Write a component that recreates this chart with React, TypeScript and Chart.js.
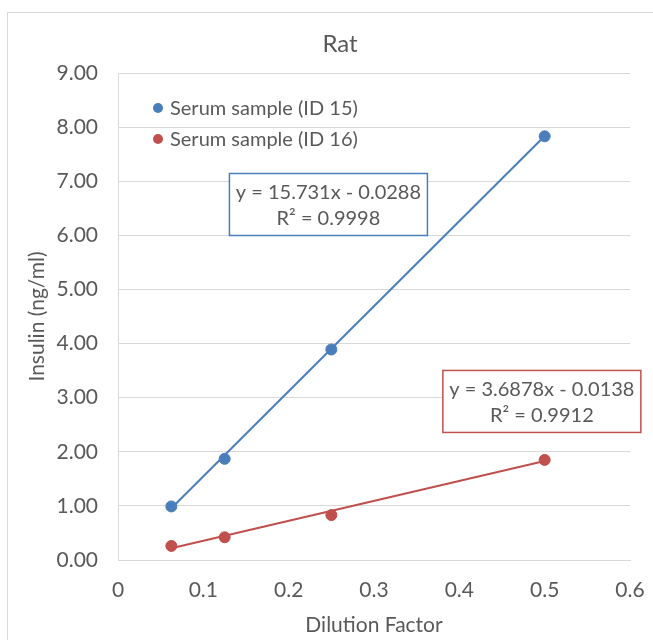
import { useEffect, useRef } from "react";
import { Chart, registerables } from "chart.js";
Chart.register(...registerables);

const dilution = [0.0625, 0.125, 0.25, 0.5];
const id15 = [0.99, 1.87, 3.89, 7.83];
const id16 = [0.26, 0.42, 0.83, 1.85];
const trendX = [0.0625, 0.5];
const trend15 = [0.955, 7.837];
const trend16 = [0.217, 1.83];
const seriesLabels = ["Serum sample (ID 15)", "Serum sample (ID 16)"];
const equation15 = ["y = 15.731x - 0.0288", "R² = 0.9998"];
const equation16 = ["y = 3.6878x - 0.0138", "R² = 0.9912"];
const chartTitle = "Rat";

const FONT = "Lato, 'Open Sans', sans-serif";
const TXT = "#595959";
const BLUE = "#4a7ebb";
const RED = "#c0504d";

const extras = {
  id: "extras",
  beforeDraw(chart: any) {
    const ctx = chart.ctx;
    ctx.save();
    ctx.fillStyle = "#fff";
    ctx.fillRect(0, 0, chart.width, chart.height);
    ctx.strokeStyle = "#d9d9d9";
    ctx.lineWidth = 1;
    ctx.strokeRect(7.5, 12.5, chart.width + 20, chart.height + 20);
    ctx.restore();
  },
  afterDatasetsDraw(chart: any) {
    const ctx = chart.ctx;
    const { left, top } = chart.chartArea;
    const xs = chart.scales.x;
    const ys = chart.scales.y;
    ctx.save();
    // title
    ctx.font = `24px ${FONT}`;
    ctx.textBaseline = "middle";
    ctx.textAlign = "center";
    ctx.fillStyle = TXT;
    ctx.fillText(chartTitle, 340, 44);
    // legend
    ctx.font = `20px ${FONT}`;
    ctx.textAlign = "left";
    [0, 1].forEach((i) => {
      const ds = chart.data.datasets[i];
      const cy = top + 35 + i * 31;
      ctx.fillStyle = ds.backgroundColor;
      ctx.beginPath();
      ctx.arc(left + 40, cy, 5, 0, Math.PI * 2);
      ctx.fill();
      ctx.fillStyle = TXT;
      ctx.fillText(ds.label, left + 52, cy + 1);
    });
    // equation boxes
    const boxes = [
      { lines: equation15, color: BLUE, cx: 0.2466, cy: 6.57 },
      { lines: equation16, color: RED, cx: 0.4967, cy: 2.93 },
    ];
    boxes.forEach((b) => {
      const px = xs.getPixelForValue(b.cx);
      const py = ys.getPixelForValue(b.cy);
      const w = 198;
      const h = 62;
      ctx.strokeStyle = b.color;
      ctx.lineWidth = 1.5;
      ctx.fillStyle = "#fff";
      ctx.fillRect(px - w / 2, py - h / 2, w, h);
      ctx.strokeRect(px - w / 2, py - h / 2, w, h);
      ctx.fillStyle = TXT;
      ctx.textAlign = "center";
      ctx.fillText(b.lines[0], px, py - 12);
      ctx.fillText(b.lines[1], px, py + 14);
    });
    ctx.restore();
  },
};

export default function App() {
  const ref = useRef<HTMLCanvasElement>(null);
  useEffect(() => {
    const chart = new Chart(ref.current!, {
      type: "scatter",
      data: {
        datasets: [
          {
            label: seriesLabels[0],
            data: dilution.map((x, i) => ({ x, y: id15[i] })),
            backgroundColor: BLUE,
            borderColor: BLUE,
            pointRadius: 5.5,
            pointHoverRadius: 5.5,
          },
          {
            label: seriesLabels[1],
            data: dilution.map((x, i) => ({ x, y: id16[i] })),
            backgroundColor: RED,
            borderColor: RED,
            pointRadius: 5.5,
            pointHoverRadius: 5.5,
          },
          {
            label: "trend15",
            type: "line",
            data: trendX.map((x, i) => ({ x, y: trend15[i] })),
            borderColor: BLUE,
            borderWidth: 2,
            pointRadius: 0,
            showLine: true,
            order: 5,
          } as any,
          {
            label: "trend16",
            type: "line",
            data: trendX.map((x, i) => ({ x, y: trend16[i] })),
            borderColor: RED,
            borderWidth: 2,
            pointRadius: 0,
            showLine: true,
            order: 5,
          } as any,
        ],
      },
      options: {
        animation: false,
        responsive: true,
        maintainAspectRatio: false,
        layout: { padding: { left: 8, right: 23, top: 73, bottom: 0 } },
        plugins: {
          legend: { display: false },
          tooltip: { enabled: false },
          title: { display: false },
        },
        scales: {
          x: {
            type: "linear",
            min: 0,
            max: 0.6,
            ticks: {
              stepSize: 0.1,
              color: TXT,
              font: { family: FONT, size: 21 },
              padding: 18,
              callback: (v: any) => String(Math.round(Number(v) * 10) / 10),
            },
            grid: { display: false, drawTicks: false },
            border: { display: true, color: "#d9d9d9", width: 1 },
            title: {
              display: true,
              text: "Dilution Factor",
              color: TXT,
              font: { family: FONT, size: 21 },
              padding: { top: 4, bottom: 2 },
            },
            afterFit: (s: any) => {
              s.height = 80;
              s.paddingRight = 0;
              s.paddingLeft = 0;
            },
          },
          y: {
            min: 0,
            max: 9,
            ticks: {
              stepSize: 1,
              color: TXT,
              font: { family: FONT, size: 21 },
              padding: 20,
              callback: (v: any) => Number(v).toFixed(2),
            },
            grid: { color: "#d9d9d9", drawTicks: false },
            border: { display: true, color: "#d9d9d9", width: 1 },
            title: {
              display: true,
              text: "Insulin (ng/ml)",
              color: TXT,
              font: { family: FONT, size: 21 },
              padding: { top: 17, bottom: 4 },
            },
            afterFit: (s: any) => {
              s.width = 110;
            },
          },
        },
      },
      plugins: [extras],
    });
    return () => chart.destroy();
  }, []);
  return (
    <div style={{ position: "fixed", left: 0, top: 0, width: 653, height: 640 }}>
      <canvas ref={ref} />
    </div>
  );
}
